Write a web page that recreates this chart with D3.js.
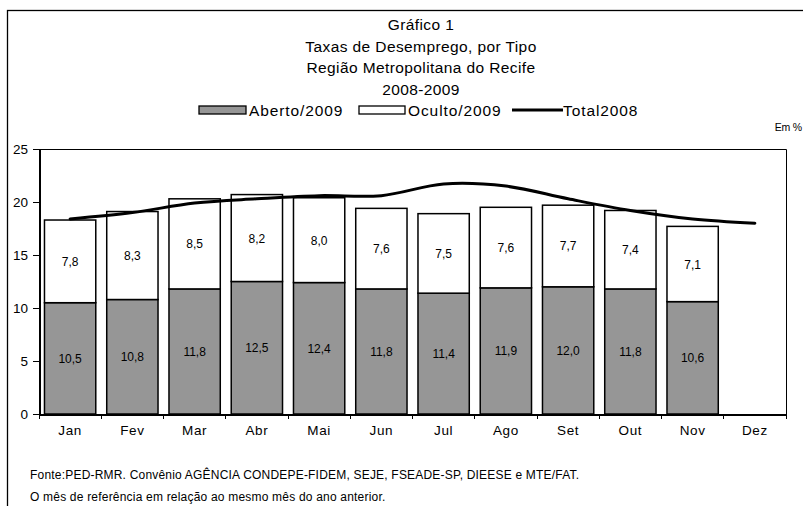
<!DOCTYPE html>
<html>
<head>
<meta charset="UTF-8">
<script src="https://cdn.jsdelivr.net/npm/d3@7/dist/d3.min.js"></script>
<style>
  body { margin: 0; background: #fff; }
  svg text { font-family: "Liberation Sans", Arial, sans-serif; fill: #000; }
  .axis path, .axis line { stroke: #000; shape-rendering: crispEdges; }
</style>
</head>
<body>
<script>
// data
var months = ["Jan", "Fev", "Mar", "Abr", "Mai", "Jun", "Jul", "Ago", "Set", "Out", "Nov", "Dez"];
var aberto2009 = [10.5, 10.8, 11.8, 12.5, 12.4, 11.8, 11.4, 11.9, 12.0, 11.8, 10.6, null];
var oculto2009 = [7.8, 8.3, 8.5, 8.2, 8.0, 7.6, 7.5, 7.6, 7.7, 7.4, 7.1, null];
var total2008 = [18.4, 19.0, 19.9, 20.3, 20.6, 20.6, 21.7, 21.5, 20.3, 19.2, 18.4, 18.0];
var yTicks = [0, 5, 10, 15, 20, 25];
var titleLines = ["Gráfico 1", "Taxas de Desemprego, por Tipo", "Região Metropolitana do Recife", "2008-2009"];
var footLines = [
  "Fonte:PED-RMR. Convênio AGÊNCIA CONDEPE-FIDEM, SEJE, FSEADE-SP, DIEESE e MTE/FAT.",
  "O mês de referência em relação ao mesmo mês do ano anterior."
];

var width = 803, height = 506;
var plotLeft = 39, plotRight = 786, plotTop = 149, plotBottom = 414;
var fmt = function(v) { return v.toFixed(1).replace(".", ","); };

var svg = d3.select("body").append("svg")
  .attr("width", width)
  .attr("height", height);

// outer frame
svg.append("rect")
  .attr("x", 7.5).attr("y", 10.5)
  .attr("width", 800).attr("height", 510)
  .attr("fill", "none").attr("stroke", "#000").attr("stroke-width", 1.3);

var x = d3.scaleBand().domain(months).range([plotLeft, plotRight]).paddingInner(0.176).paddingOuter(0.088);
var y = d3.scaleLinear().domain([0, 25]).range([plotBottom, plotTop]);

// title
svg.append("g").selectAll("text")
  .data(titleLines)
  .join("text")
  .attr("x", 421)
  .attr("y", function(d, i) { return 30 + i * 21.5; })
  .attr("text-anchor", "middle")
  .attr("font-size", 15.5)
  .attr("letter-spacing", 0.4)
  .text(function(d) { return d; });

// legend
var lg = svg.append("g");
lg.append("rect").attr("x", 199).attr("y", 106).attr("width", 47).attr("height", 8)
  .attr("fill", "#969696").attr("stroke", "#000").attr("stroke-width", 1.3);
lg.append("text").attr("x", 249).attr("y", 115.5).attr("font-size", 15.5).attr("letter-spacing", 0.9).text("Aberto/2009");
lg.append("rect").attr("x", 359).attr("y", 106).attr("width", 46).attr("height", 8)
  .attr("fill", "#fff").attr("stroke", "#000").attr("stroke-width", 1.3);
lg.append("text").attr("x", 408).attr("y", 115.5).attr("font-size", 15.5).attr("letter-spacing", 0.9).text("Oculto/2009");
lg.append("line").attr("x1", 512).attr("x2", 563).attr("y1", 110).attr("y2", 110)
  .attr("stroke", "#000").attr("stroke-width", 3);
lg.append("text").attr("x", 563).attr("y", 115.5).attr("font-size", 15.5).attr("letter-spacing", 0.9).text("Total2008");

svg.append("text").attr("x", 802).attr("y", 131).attr("text-anchor", "end")
  .attr("font-size", 10.5).attr("letter-spacing", -0.2).text("Em %");

// plot frame (top / right)
svg.append("path")
  .attr("d", "M" + plotLeft + "," + (plotTop + 0.5) + "H" + (plotRight + 0.5) + "V" + plotBottom)
  .attr("fill", "none").attr("stroke", "#000").attr("stroke-width", 1);

// bars
var idx = d3.range(months.length).filter(function(i) { return aberto2009[i] != null; });
var bars = svg.append("g");
bars.selectAll("rect.ab")
  .data(idx)
  .join("rect")
  .attr("class", "ab")
  .attr("x", function(i) { return x(months[i]); })
  .attr("width", x.bandwidth())
  .attr("y", function(i) { return y(aberto2009[i]); })
  .attr("height", function(i) { return y(0) - y(aberto2009[i]); })
  .attr("fill", "#969696").attr("stroke", "#000").attr("stroke-width", 1.5);
bars.selectAll("rect.oc")
  .data(idx)
  .join("rect")
  .attr("class", "oc")
  .attr("x", function(i) { return x(months[i]); })
  .attr("width", x.bandwidth())
  .attr("y", function(i) { return y(aberto2009[i] + oculto2009[i]); })
  .attr("height", function(i) { return y(aberto2009[i]) - y(aberto2009[i] + oculto2009[i]); })
  .attr("fill", "#fff").attr("stroke", "#000").attr("stroke-width", 1.5);

// data labels
bars.selectAll("text.lab-ab")
  .data(idx)
  .join("text")
  .attr("class", "lab-ab")
  .attr("x", function(i) { return x(months[i]) + x.bandwidth() / 2; })
  .attr("y", function(i) { return y(aberto2009[i] / 2) + 4.5; })
  .attr("text-anchor", "middle").attr("font-size", 12)
  .text(function(i) { return fmt(aberto2009[i]); });
bars.selectAll("text.lab-oc")
  .data(idx)
  .join("text")
  .attr("class", "lab-oc")
  .attr("x", function(i) { return x(months[i]) + x.bandwidth() / 2; })
  .attr("y", function(i) { return y(aberto2009[i] + oculto2009[i] / 2) + 4.5; })
  .attr("text-anchor", "middle").attr("font-size", 12)
  .text(function(i) { return fmt(oculto2009[i]); });

// total 2008 line (smoothed)
var line = d3.line()
  .x(function(d, i) { return x(months[i]) + x.bandwidth() / 2; })
  .y(function(d) { return y(d); })
  .curve(d3.curveCatmullRom.alpha(0.5));
svg.append("path")
  .datum(total2008)
  .attr("d", line)
  .attr("fill", "none").attr("stroke", "#000").attr("stroke-width", 3)
  .attr("stroke-linecap", "round");

// y axis
var yAxis = svg.append("g").attr("class", "axis")
  .attr("transform", "translate(" + plotLeft + ",0)")
  .call(d3.axisLeft(y).tickValues(yTicks).tickSize(6).tickSizeOuter(0).tickFormat(d3.format("d")));
yAxis.select(".domain").attr("stroke-width", 2);
yAxis.selectAll("text").attr("font-size", 13.5).attr("dx", -2).attr("fill", "#000");

// x axis
var xAxis = svg.append("g").attr("class", "axis")
  .attr("transform", "translate(0," + plotBottom + ")")
  .call(d3.axisBottom(x).tickSize(0).tickSizeOuter(0));
xAxis.select(".domain").attr("stroke-width", 2);
xAxis.selectAll("text").attr("font-size", 13.5).attr("dy", "1.35em").attr("letter-spacing", 0.6).attr("fill", "#000");
var step = x.step();
xAxis.selectAll("line.bound")
  .data(d3.range(months.length + 1))
  .join("line")
  .attr("class", "bound")
  .attr("x1", function(k) { return plotLeft + k * step; })
  .attr("x2", function(k) { return plotLeft + k * step; })
  .attr("y1", 0).attr("y2", 5)
  .attr("stroke", "#000").attr("stroke-width", 1);

// footer
svg.append("g").selectAll("text")
  .data(footLines)
  .join("text")
  .attr("x", 30)
  .attr("y", function(d, i) { return 479 + i * 21.5; })
  .attr("font-size", 12)
  .attr("letter-spacing", 0.2)
  .text(function(d) { return d; });
</script>
</body>
</html>
